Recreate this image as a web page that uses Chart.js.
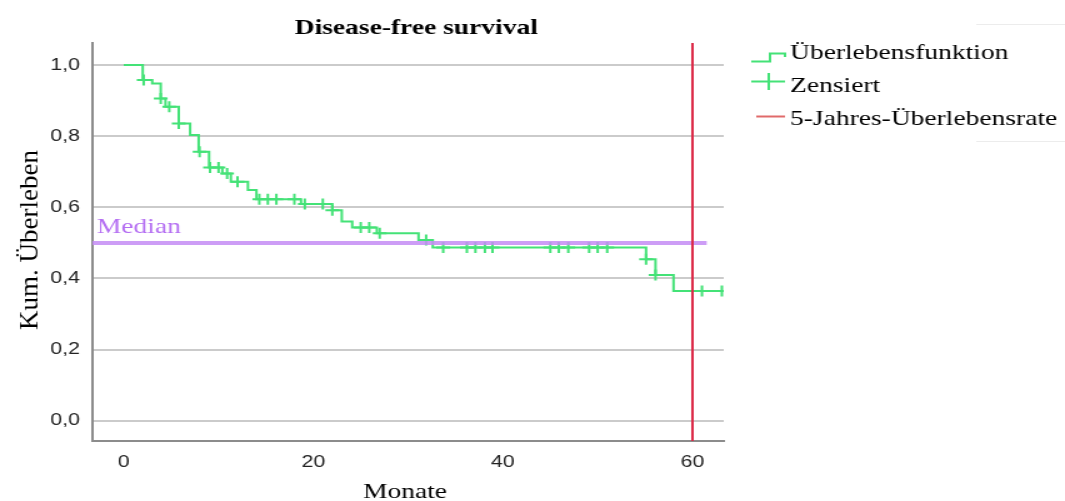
<!DOCTYPE html>
<html>
<head>
<meta charset="utf-8">
<script src="https://cdn.jsdelivr.net/npm/chart.js@4/dist/chart.umd.min.js"></script>
<style>
  html, body { margin: 0; padding: 0; background: #fff; overflow: hidden; }
  /* the source picture is stretched sideways, so the chart is too */
  #wrap { width: 852px; height: 501px; transform: scaleX(1.25); transform-origin: 0 0; }
</style>
</head>
<body>
<div id="wrap"><canvas id="chart" width="852" height="501"></canvas></div>
<script>
// Kaplan-Meier steps (Monate, Kum. Überleben)
const eventMonths   = [0, 2.0, 3.0, 3.9, 4.4, 5.8, 7.0, 7.9, 9.0, 10.4, 11.3, 13.1, 14.0, 18.7, 22.0, 23.0, 24.1, 26.7, 31.1, 32.6, 55.1, 56.1, 58.0, 63.3];
const eventSurvival = [1.0, 0.958, 0.948, 0.906, 0.883, 0.836, 0.803, 0.756, 0.712, 0.695, 0.672, 0.649, 0.623, 0.609, 0.592, 0.560, 0.543, 0.527, 0.508, 0.487, 0.454, 0.410, 0.365, 0.365];

// zensierte Fälle
const censorMonths   = [2.1, 3.9, 4.8, 5.8, 8.0, 9.1, 10.0, 10.9, 12.0, 14.3, 15.2, 16.1, 18.0, 19.1, 21.0, 22.0, 25.0, 25.9, 27.0, 31.9,
                        33.7, 36.2, 37.1, 38.1, 38.9, 45.0, 45.9, 46.9, 49.1, 50.0, 51.0, 55.1, 56.1, 61.0, 63.1];
const censorSurvival = [0.958, 0.906, 0.883, 0.836, 0.756, 0.712, 0.712, 0.695, 0.672, 0.623, 0.623, 0.623, 0.623, 0.609, 0.609, 0.592, 0.543, 0.543, 0.527, 0.508,
                        0.487, 0.487, 0.487, 0.487, 0.487, 0.487, 0.487, 0.487, 0.487, 0.487, 0.487, 0.454, 0.410, 0.365, 0.365];

const medianValue = 0.5;
const medianMonths = [-3.3, 61.5];
const fiveYearMonth = 60;

const xTicks = [0, 20, 40, 60];
const yTicks = [0, 0.2, 0.4, 0.6, 0.8, 1.0];
const xRange = [-3.3, 63.3];
const yRange = [-0.057, 1.062];

const GREEN = '#44e277';
const RED = '#dc2a48';
const PURPLE = 'rgba(196, 140, 244, 0.85)';
const SERIF = '"Liberation Serif", "Times New Roman", serif';

// Titel, Legende und Beschriftungen
const decorations = {
    id: 'decorations',
    afterDraw(chart) {
        const ctx = chart.ctx;
        ctx.save();
        ctx.fillStyle = '#000';
        ctx.textAlign = 'center';
        ctx.textBaseline = 'alphabetic';
        ctx.font = 'bold 22px ' + SERIF;
        ctx.fillText('Disease-free survival', 333, 34);

        ctx.font = '22px ' + SERIF;
        ctx.fillText('Monate', 324, 498);

        // Achsentitel: Streckung aufheben, sonst wird er zu kurz
        ctx.save();
        ctx.translate(29.5, 240);
        ctx.scale(0.8, 1);
        ctx.rotate(-Math.PI / 2);
        ctx.font = '27px ' + SERIF;
        ctx.fillText('Kum. Überleben', 0, 0);
        ctx.restore();

        ctx.textAlign = 'left';
        ctx.fillStyle = '#b46ef2';
        ctx.fillText('Median', 77.5, 233);

        // Legende
        ctx.lineWidth = 2;
        ctx.strokeStyle = GREEN;
        ctx.beginPath();
        ctx.moveTo(601, 61.5); ctx.lineTo(616, 61.5); ctx.lineTo(616, 53.5);
        ctx.lineTo(628, 53.5); ctx.lineTo(628, 57);
        ctx.stroke();
        ctx.beginPath();
        ctx.moveTo(601, 81.5); ctx.lineTo(628, 81.5);
        ctx.moveTo(615, 73); ctx.lineTo(615, 90);
        ctx.stroke();
        ctx.strokeStyle = '#e06a6a';
        ctx.beginPath();
        ctx.moveTo(605, 116.5); ctx.lineTo(628, 116.5);
        ctx.stroke();

        ctx.fillStyle = '#000';
        ctx.fillText('Überlebensfunktion', 632, 59);
        ctx.fillText('Zensiert', 632, 92);
        ctx.fillText('5-Jahres-Überlebensrate', 632, 125);

        ctx.strokeStyle = '#ececec';
        ctx.lineWidth = 1;
        ctx.beginPath();
        ctx.moveTo(781, 24.5); ctx.lineTo(852, 24.5);
        ctx.moveTo(781, 141.5); ctx.lineTo(852, 141.5);
        ctx.stroke();
        ctx.restore();
    }
};

const ctx = document.getElementById('chart').getContext('2d');

new Chart(ctx, {
    type: 'line',
    data: {
        datasets: [
            {
                label: 'Überlebensfunktion',
                data: eventMonths.map((m, i) => ({ x: m, y: eventSurvival[i] })),
                borderColor: GREEN,
                borderWidth: 2,
                stepped: 'before',
                pointRadius: 0,
                order: 3,
            },
            {
                label: 'Zensiert',
                data: censorMonths.map((m, i) => ({ x: m, y: censorSurvival[i] })),
                showLine: false,
                pointStyle: 'cross',
                pointRadius: 5.5,
                borderColor: GREEN,
                pointBorderWidth: 2,
                order: 2,
            },
            {
                label: 'Median',
                data: medianMonths.map(m => ({ x: m, y: medianValue })),
                borderColor: PURPLE,
                borderWidth: 4,
                pointRadius: 0,
                order: 1,
            },
            {
                label: '5-Jahres-Überlebensrate',
                data: yRange.map(v => ({ x: fiveYearMonth, y: v })),
                borderColor: RED,
                borderWidth: 2,
                pointRadius: 0,
                order: 0,
            },
        ],
    },
    options: {
        responsive: false,
        animation: false,
        devicePixelRatio: 1,
        layout: { padding: { top: 43, right: 273, left: 0, bottom: 0 } },
        scales: {
            x: {
                type: 'linear',
                min: xRange[0],
                max: xRange[1],
                afterBuildTicks: (scale) => { scale.ticks = xTicks.map(v => ({ value: v })); },
                afterFit: (scale) => { scale.height = 60; },
                grid: { display: false, drawTicks: false },
                border: { display: true, color: '#8c8c8c', width: 2 },
                ticks: {
                    padding: 11,
                    color: '#222',
                    font: { family: '"Liberation Sans", Arial, sans-serif', size: 17 },
                    maxRotation: 0,
                },
            },
            y: {
                min: yRange[0],
                max: yRange[1],
                afterBuildTicks: (scale) => { scale.ticks = yTicks.map(v => ({ value: v })); },
                afterFit: (scale) => { scale.width = 74; },
                grid: { color: '#cbcbcb', lineWidth: 2, drawTicks: false },
                border: { display: true, color: '#8c8c8c', width: 2 },
                ticks: {
                    padding: 10,
                    color: '#222',
                    font: { family: '"Liberation Sans", Arial, sans-serif', size: 17 },
                    callback: (v) => v.toFixed(1).replace('.', ','),
                },
            },
        },
        plugins: {
            legend: { display: false },
            title: { display: false },
            tooltip: { enabled: false },
        },
    },
    plugins: [decorations],
});
</script>
</body>
</html>
